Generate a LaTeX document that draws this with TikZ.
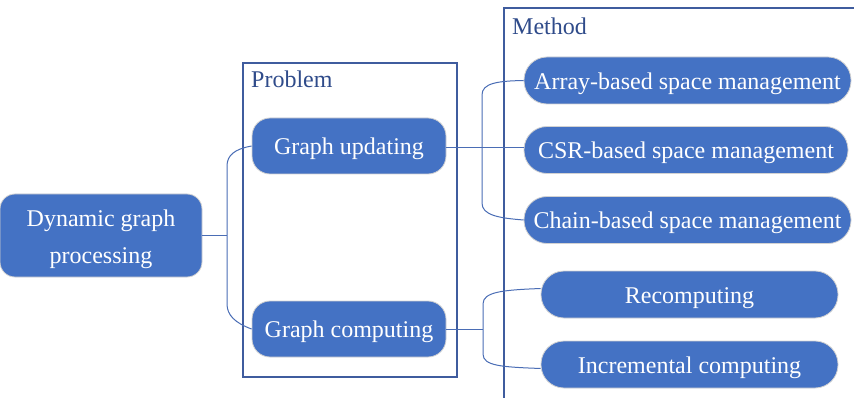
\documentclass[tikz,border=0pt]{standalone}
\usepackage{fontspec}
\setmainfont{Liberation Serif}
\definecolor{nodeblue}{HTML}{4472C4}
\definecolor{lineblue}{HTML}{4A6DB5}
\definecolor{boxblue}{HTML}{3F5C9E}
\definecolor{labelblue}{HTML}{2F4B8A}
\begin{document}
\begin{tikzpicture}[x=1pt,y=-1pt,
  txt/.style={font=\fontsize{24}{37}\selectfont, text=white},
  rbox/.style={txt, fill=nodeblue, draw=gray!35, line width=0.8pt, rounded corners=#1, inner sep=0pt, align=center},
  pill/.style={txt, fill=nodeblue, draw=gray!35, line width=0.8pt, rounded corners=23pt, inner sep=0pt, minimum height=47pt, text height=23pt, text depth=5pt},
  oneline/.style={text height=22pt, text depth=5pt},
  conn/.style={draw=lineblue, line width=1pt},
  frame/.style={draw=boxblue, line width=1.3pt},
  lbl/.style={font=\fontsize{24}{29}\selectfont, text=labelblue, anchor=base west, inner sep=0pt}]
\useasboundingbox (0,0) rectangle (854,398);

% group frames
\node[frame, minimum width=214pt, minimum height=314pt, inner sep=0pt] (prob) at (350,220) {};
\node[lbl] (problbl) at (251,88) {Problem};
\coordinate (mBL) at (504,398);
\coordinate (mTL) at (504,8);
\coordinate (mTR) at (854,8);
\draw[frame] (mBL) -- (mTL) -- (mTR);
\node[lbl] (methlbl) at (512,35) {Method};

% nodes
\node[rbox=15pt, minimum width=202pt, minimum height=83pt, text height=60pt, text depth=5pt] (dgp) at (101,235.5) {Dynamic graph\\processing};
\node[rbox=18pt, oneline, minimum width=194pt, minimum height=56pt] (gu) at (349,146) {Graph updating};
\node[rbox=18pt, oneline, minimum width=194pt, minimum height=56pt] (gc) at (349,329) {Graph computing};
\node[pill, minimum width=327pt] (arr) at (687.5,80.5) {Array-based space management};
\node[pill, minimum width=324pt] (csr) at (686,150) {CSR-based space management};
\node[pill, minimum width=327pt] (chn) at (687.5,220) {Chain-based space management};
\node[pill, minimum width=297pt] (rec) at (689.5,294.5) {Recomputing};
\node[pill, minimum width=297pt] (inc) at (689.5,364.5) {Incremental computing};

% connector coordinates
\coordinate (jL) at (227,235.5);
\coordinate (uTop) at (227,166);
\coordinate (uBot) at (227,304);
\coordinate (aT) at (482,95);
\coordinate (aB) at (482,203);
\coordinate (cJ) at (483,329);
\coordinate (cT) at (483,304);
\coordinate (cB) at (483,354);
\coordinate (uJ) at (446,148);

% connectors
\draw[conn] (dgp.east) -- (jL);
\draw[conn] (gu.west) .. controls (235,149) and (227,155) .. (uTop) -- (uBot)
  .. controls (227,315) and (235,323) .. (gc.west);
\draw[conn] (uJ) -- (uJ -| csr.west);
\draw[conn] (arr.west) .. controls (498,81) and (482,83) .. (aT) -- (aB)
  .. controls (482,215) and (498,218) .. (chn.west);
\draw[conn] (gc.east) -- (cJ);
\draw[conn] ([yshift=6pt]rec.west) .. controls (502,290) and (483,292) .. (cT) -- (cB)
  .. controls (483,366) and (502,367) .. ([yshift=-4pt]inc.west);
\end{tikzpicture}
\end{document}
